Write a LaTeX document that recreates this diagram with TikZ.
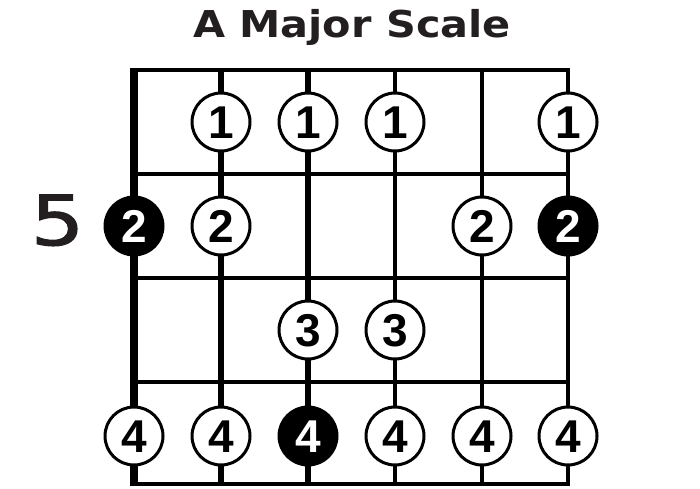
\documentclass[tikz,border=0pt]{standalone}
\usepackage{fontspec}
\setmainfont{Liberation Sans}
\newfontfamily\titlefont{DejaVu Sans}
\newfontfamily\fivefont{DejaVu Sans}[FakeBold=1.6]
\usepackage{graphicx}
\definecolor{ink}{HTML}{231F20}
\begin{document}
\begin{tikzpicture}[x=1pt,y=-1pt,
  fretline/.style={line width=4pt,line cap=rect},
  strline/.style={line width=#1},
  fingerdot/.style={circle,draw=black,line width=3pt,fill=white,minimum size=58pt,inner sep=0pt,
    text height=33pt,text depth=0pt,font=\fontsize{46}{46}\selectfont\bfseries},
  rootdot/.style={fingerdot,fill=black,text=white}]
\useasboundingbox (0,0) rectangle (700,488);
% title and fret number
\node[font=\titlefont\bfseries\fontsize{37}{37}\selectfont,text=ink,anchor=base,inner sep=0pt] (title) at (352,37) {\scalebox{1.12}[1]{A Major Scale}};
\node[font=\fivefont\fontsize{69}{69}\selectfont,text=ink,anchor=base,inner sep=0pt] (fretnum) at (57.5,245) {\scalebox{1.22}[1]{5}};
% frets
\foreach \y in {70,174,278,382,484} \draw[fretline] (134,\y) -- (568,\y);
% strings
\foreach \x/\w in {134/8pt,221/6pt,308/6pt,395/4.5pt,482/4pt,568/3.5pt}
  \draw[strline=\w] (\x,68) -- (\x,486);
% row 1
\node[fingerdot] (a2) at (221,122) {1};
\node[fingerdot] (a3) at (308,122) {1};
\node[fingerdot] (a4) at (395,122) {1};
\node[fingerdot] (a6) at (568,122) {1};
% row 2
\node[rootdot] (b1) at (134,226) {2};
\node[fingerdot] (b2) at (221,226) {2};
\node[fingerdot] (b5) at (482,226) {2};
\node[rootdot] (b6) at (568,226) {2};
% row 3
\node[fingerdot] (c3) at (308,330) {3};
\node[fingerdot] (c4) at (395,330) {3};
% row 4
\node[fingerdot] (d1) at (134,436) {4};
\node[fingerdot] (d2) at (221,436) {4};
\node[rootdot] (d3) at (308,436) {4};
\node[fingerdot] (d4) at (395,436) {4};
\node[fingerdot] (d5) at (482,436) {4};
\node[fingerdot] (d6) at (568,436) {4};
\end{tikzpicture}
\end{document}
